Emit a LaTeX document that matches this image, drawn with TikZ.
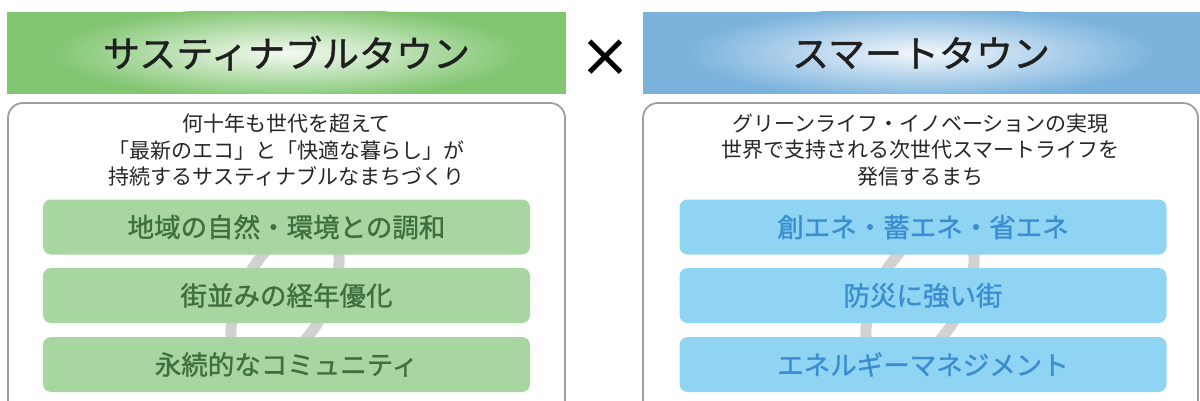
\documentclass[tikz,border=0pt]{standalone}
\usepackage{fontspec}
\setmainfont{Noto Sans CJK JP}
\newfontfamily\jpmedium{Noto Sans CJK JP}[FakeBold=1.1]
\newfontfamily\jpheavy{Noto Sans CJK JP}[FakeBold=3]
\definecolor{hdgreen}{HTML}{82C672}
\definecolor{glowgreen}{HTML}{F4FAF2}
\definecolor{hdblue}{HTML}{7BB3DD}
\definecolor{glowblue}{HTML}{F2F7FC}
\definecolor{boxgreen}{HTML}{A7D6A0}
\definecolor{boxblue}{HTML}{8FD4F2}
\definecolor{txtgreen}{HTML}{3E6F40}
\definecolor{txtblue}{HTML}{3A8DD0}

\begin{document}
\begin{tikzpicture}[x=1pt, y=-1pt,
  headtext/.style={font=\jpmedium\fontsize{37}{40}\selectfont, text=black!88},
  leadtext/.style={font=\fontsize{21}{26.5}\selectfont, align=center, text=black!85},
  item/.style={rounded corners=8pt, minimum width=487pt, minimum height=55pt,
    font=\jpmedium\fontsize{26.5}{30}\selectfont},
  greenitem/.style={item, fill=boxgreen, text=txtgreen},
  blueitem/.style={item, fill=boxblue, text=txtblue},
  panel/.style={draw=black!38, line width=1.8pt, rounded corners=15pt},
  ring/.style={draw=black!18, line width=11pt}]
\useasboundingbox (0,0) rectangle (1200,401);
\clip (0,0) rectangle (1200,401);

% header bars with a soft glow in the middle
\fill [hdgreen] (7,12) rectangle (566,94);
\fill [hdblue] (643,12) rectangle (1200,94);
\begin{scope}
\clip (7,12) rectangle (566,94);
\shade [inner color=glowgreen, outer color=hdgreen] (286.5,53) ellipse [x radius=235, y radius=46];
\end{scope}
\begin{scope}
\clip (643,12) rectangle (1200,94);
\shade [inner color=glowblue, outer color=hdblue] (921,53) ellipse [x radius=235, y radius=46];
\end{scope}
\node [headtext] (sustain) at (286.5,53) {サスティナブルタウン};
\node [headtext] (smart) at (921,53) {スマートタウン};
\node [font=\jpheavy\fontsize{50}{54}\selectfont] (cross) at (605,58) {×};

% panels
\draw [panel] (8,103) rectangle (565,440);
\draw [panel] (643,103) rectangle (1198,440);
\node [leadtext] (sustainlead) at (286.5,150) {何十年も世代を超えて\\「最新のエコ」と「快適な暮らし」が\\持続するサスティナブルなまちづくり};
\node [leadtext] (smartlead) at (920.5,150) {グリーンライフ・イノベーションの実現\\世界で支持される次世代スマートライフを\\発信するまち};

% chain link behind the items
\draw [ring, rotate around={60:(285,296)}] (285,296) ellipse [x radius=80, y radius=42];
\draw [ring, rotate around={60:(920,296)}] (920,296) ellipse [x radius=80, y radius=42];

\node [greenitem] (harmony) at (286.5,227) {地域の自然・環境との調和};
\node [greenitem] (townscape) at (286.5,295.5) {街並みの経年優化};
\node [greenitem] (community) at (286.5,364.5) {永続的なコミュニティ};
\node [blueitem] (energy) at (923,227) {創エネ・蓄エネ・省エネ};
\node [blueitem] (disaster) at (923,295.5) {防災に強い街};
\node [blueitem] (management) at (923,364.5) {エネルギーマネジメント};
\end{tikzpicture}
\end{document}
